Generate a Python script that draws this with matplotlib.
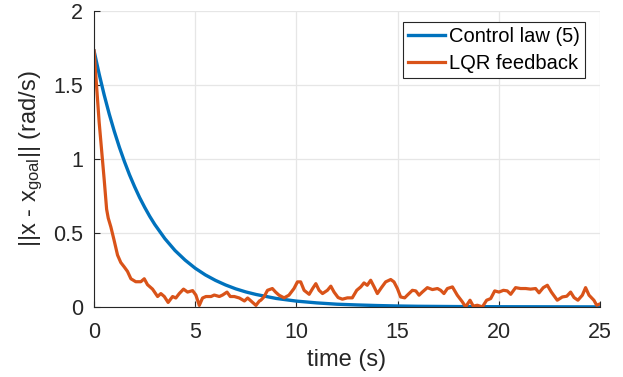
import matplotlib
matplotlib.use('Agg')
import matplotlib.pyplot as plt

plt.rcParams['font.family'] = ['Liberation Sans', 'DejaVu Sans']
plt.rcParams['mathtext.fontset'] = 'custom'
plt.rcParams['mathtext.rm'] = 'Liberation Sans'
plt.rcParams['mathtext.it'] = 'Liberation Sans:italic'

# Control law (5)
t_ctrl = [0, 0.25, 0.5, 0.75, 1.0, 1.25, 1.5, 1.75, 2.0, 2.25, 2.5, 2.75,
          3.0, 3.5, 4.0, 4.5, 5.0, 5.5, 6.0, 6.5, 7.0, 7.5, 8.0, 9.0, 10,
          11, 12, 13, 14, 15, 16, 18, 20, 25]
x_ctrl = [1.730, 1.574, 1.432, 1.303, 1.186, 1.079, 0.982, 0.893, 0.813,
          0.739, 0.673, 0.612, 0.557, 0.461, 0.381, 0.316, 0.261, 0.216,
          0.179, 0.148, 0.122, 0.101, 0.084, 0.057, 0.039, 0.027, 0.018,
          0.013, 0.009, 0.006, 0.004, 0.002, 0.001, 0.0]

# LQR feedback
t_lqr = [0, 0.25, 0.5, 0.62, 0.7, 0.83, 0.99, 1.16, 1.32, 1.49, 1.65, 1.82,
         2.06, 2.31, 2.48, 2.64, 2.89, 3.14, 3.3, 3.47, 3.66, 3.88, 4.04,
         4.21, 4.42, 4.62, 4.87, 5.03, 5.2, 5.36, 5.53, 5.78, 5.94, 6.19,
         6.35, 6.57, 6.73, 6.93, 7.18, 7.43, 7.59, 7.84, 8.0, 8.17, 8.24,
         8.40, 8.57, 8.81, 8.97, 9.14, 9.39, 9.63, 9.88, 10.05, 10.21, 10.38,
         10.63, 10.80, 10.96, 11.12, 11.29, 11.53, 11.70, 11.86, 12.06,
         12.27, 12.52, 12.76, 12.98, 13.18, 13.34, 13.50, 13.67, 13.84,
         14.0, 14.2, 14.41, 14.66, 14.82, 14.99, 15.15, 15.35, 15.48, 15.73,
         15.90, 16.06, 16.22, 16.47, 16.72, 16.97, 17.13, 17.29, 17.46,
         17.71, 17.95, 18.20, 18.36, 18.58, 18.74, 18.94, 19.19, 19.40,
         19.60, 19.80, 20.01, 20.23, 20.42, 20.59, 20.83, 21.08, 21.33,
         21.57, 21.82, 21.99, 22.20, 22.40, 22.60, 22.89, 23.14, 23.36,
         23.55, 23.72, 23.91, 24.13, 24.29, 24.46, 24.70, 24.84, 25.0]
x_lqr = [1.73, 1.25, 0.86, 0.66, 0.60, 0.54, 0.45, 0.35, 0.30, 0.27, 0.24,
         0.19, 0.17, 0.17, 0.19, 0.15, 0.12, 0.07, 0.09, 0.07, 0.03, 0.07,
         0.06, 0.09, 0.12, 0.10, 0.11, 0.08, 0.01, 0.06, 0.07, 0.07, 0.08,
         0.07, 0.08, 0.10, 0.07, 0.07, 0.06, 0.04, 0.06, 0.03, 0.01, 0.04,
         0.045, 0.068, 0.112, 0.124, 0.10, 0.079, 0.061, 0.079, 0.124, 0.169,
         0.169, 0.112, 0.085, 0.124, 0.157, 0.112, 0.09, 0.112, 0.14, 0.10,
         0.063, 0.052, 0.061, 0.061, 0.112, 0.135, 0.162, 0.146, 0.18,
         0.135, 0.09, 0.13, 0.169, 0.185, 0.169, 0.124, 0.067, 0.061, 0.079,
         0.112, 0.108, 0.079, 0.10, 0.13, 0.117, 0.124, 0.112, 0.09, 0.124,
         0.135, 0.079, 0.034, 0.0, 0.045, 0.005, 0.011, 0.0, 0.045, 0.056,
         0.108, 0.10, 0.112, 0.108, 0.085, 0.13, 0.124, 0.124, 0.12, 0.124,
         0.095, 0.13, 0.146, 0.10, 0.045, 0.067, 0.072, 0.10, 0.063, 0.045,
         0.079, 0.13, 0.079, 0.045, 0.011, 0.02]

fig = plt.figure(figsize=(6.23, 3.77), dpi=100)
ax = fig.add_axes([0.151, 0.186, 0.812, 0.785])

ax.plot(t_ctrl, x_ctrl, color='#0072BD', lw=2.4, label='Control law (5)')
ax.plot(t_lqr, x_lqr, color='#D95319', lw=2.3, label='LQR feedback')

ax.set_xlim(0, 25)
ax.set_ylim(0, 2)
ax.set_xticks([0, 5, 10, 15, 20, 25])
ax.set_yticks([0, 0.5, 1, 1.5, 2])
ax.set_yticklabels(['0', '0.5', '1', '1.5', '2'])
ax.grid(True, color='#e6e6e6', lw=0.9)
ax.set_axisbelow(True)
for s in ['top', 'right']:
    ax.spines[s].set_visible(False)
for s in ['left', 'bottom']:
    ax.spines[s].set_color('#262626')
    ax.spines[s].set_linewidth(0.8)
ax.tick_params(direction='in', length=4, width=0.8, colors='#262626',
               labelsize=15.5)
ax.tick_params(axis='x', pad=11)
ax.tick_params(axis='y', pad=8)

ax.set_xlabel('time (s)', fontsize=17, color='#262626', labelpad=4)
ax.set_ylabel(r'||x - x$_{\rm goal}$|| (rad/s)', fontsize=17, color='#262626',
              labelpad=6)

leg = ax.legend(loc='upper right', bbox_to_anchor=(0.970, 0.964), fontsize=14.5,
                fancybox=False, framealpha=1, edgecolor='#262626',
                handlelength=1.85, borderpad=0.25, labelspacing=0.4,
                handletextpad=0.2, borderaxespad=0)
leg.get_frame().set_linewidth(0.8)

fig.savefig('out.png', dpi=100)
